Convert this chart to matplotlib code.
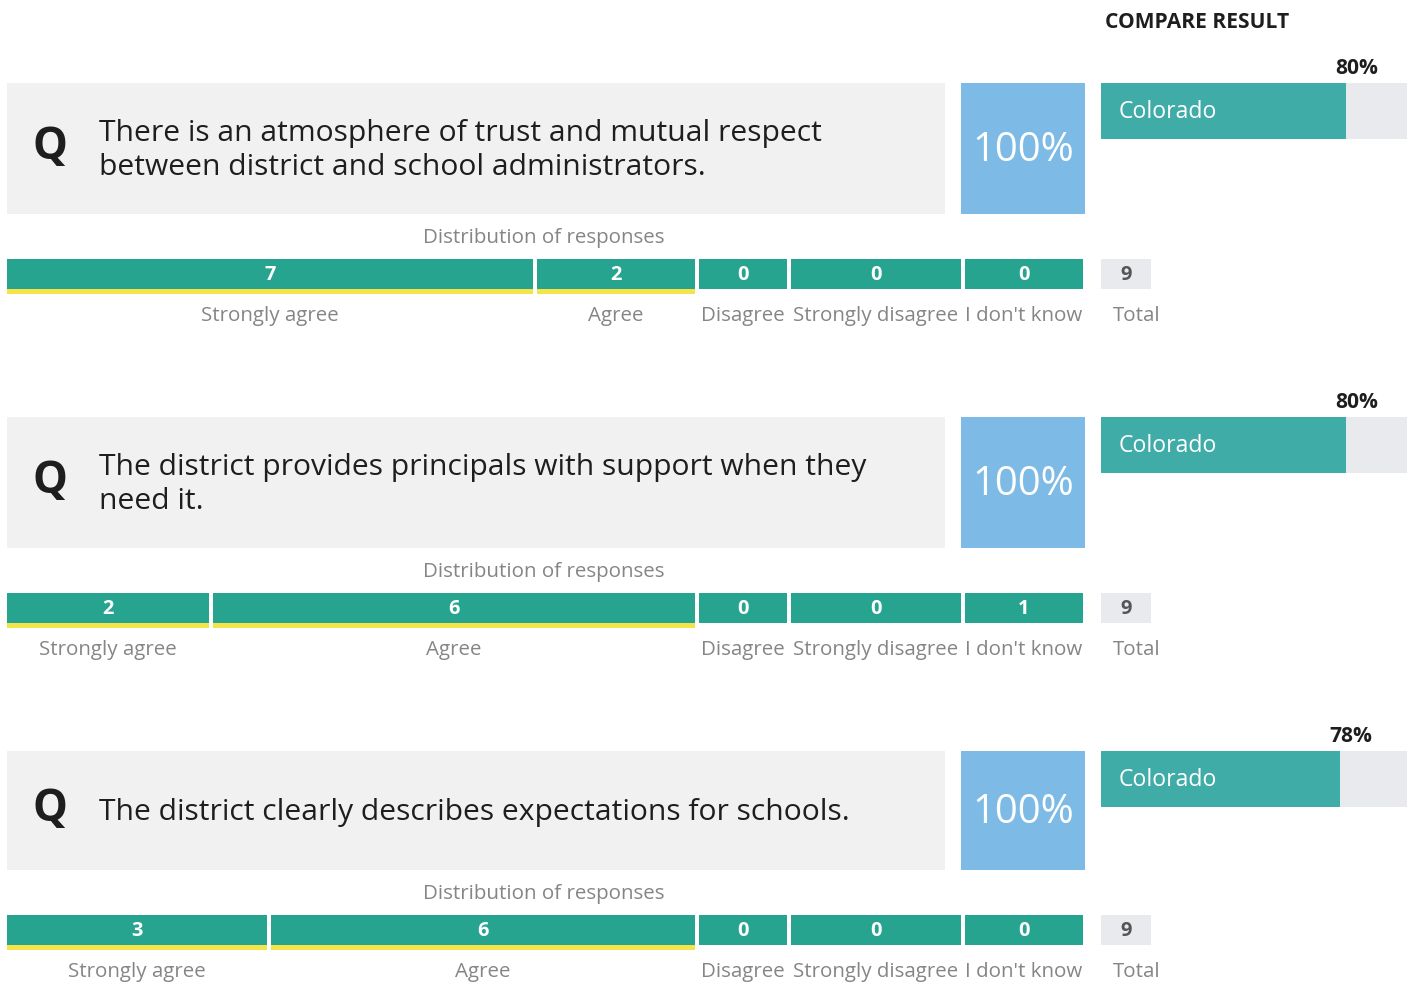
import matplotlib
matplotlib.use('Agg')
import matplotlib.pyplot as plt

plt.rcParams['font.family'] = ['Open Sans', 'DejaVu Sans']

QUESTIONS = [
    ['There is an atmosphere of trust and mutual respect',
     'between district and school administrators.'],
    ['The district provides principals with support when they',
     'need it.'],
    ['The district clearly describes expectations for schools.'],
]
CATEGORIES = ['Strongly agree', 'Agree', 'Disagree', 'Strongly disagree', "I don't know"]
COUNTS = [
    [7, 2, 0, 0, 0],
    [2, 6, 0, 0, 1],
    [3, 6, 0, 0, 0],
]
DISTRICT_SCORE = [100, 100, 100]
STATE_NAME = 'Colorado'
STATE_SCORE = [80, 80, 78]

# colours
TEAL = '#27a490'
YELLOW = '#f3e44a'
STATE_TEAL = '#40aca8'
LIGHT = '#e9eaed'
BOX_GREY = '#f1f1f1'
BLUE = '#7dbbe6'
DARK = '#1e1e1e'
MUTED = '#858585'

# layout in pixels (figure is 1416 x 984)
W, H = 1416, 984
BLOCK_TOP = [83, 417, 751]
BOX_H = [131, 131, 119]
SEG_EDGES = [  # left/right edges of each response segment
    [(7, 533), (537, 695), (699, 787), (791, 961), (965, 1083)],
    [(7, 209), (213, 695), (699, 787), (791, 961), (965, 1083)],
    [(7, 267), (271, 695), (699, 787), (791, 961), (965, 1083)],
]
STATE_X0, STATE_X1 = 1101, 1407
LINE_GAP = 34


def px(size):
    # pixel height to points at 100 dpi
    return size * 0.72


fig = plt.figure(figsize=(W / 100, H / 100), dpi=100)
ax = fig.add_axes([0, 0, 1, 1])
ax.set_xlim(0, W)
ax.set_ylim(H, 0)
ax.axis('off')

ax.text(1105, 22, 'COMPARE RESULT', fontsize=px(21), fontweight='bold',
        color=DARK, va='center', ha='left')

for i, lines in enumerate(QUESTIONS):
    top = BLOCK_TOP[i]
    bh = BOX_H[i]
    mid = top + bh / 2

    # question box
    ax.barh(mid, 938, left=7, height=bh, color=BOX_GREY, zorder=1)
    ax.text(50, mid - 1, 'Q', fontsize=px(44), fontweight='bold', color=DARK,
            ha='center', va='center', zorder=2)
    first = mid + 9.5 - LINE_GAP / 2 * (len(lines) - 1)
    for k, line in enumerate(lines):
        ax.text(99, first + k * LINE_GAP, line, fontsize=px(30), color=DARK,
                ha='left', va='baseline', zorder=2)

    # district score box
    ax.barh(mid, 124, left=961, height=bh, color=BLUE, zorder=1)
    ax.text(1023, mid + 2, f'{DISTRICT_SCORE[i]}%', fontsize=px(40),
            color='white', ha='center', va='center', zorder=2)

    # state comparison bar
    span = STATE_X1 - STATE_X0
    ax.barh(top + 28, span, left=STATE_X0, height=56, color=LIGHT, zorder=1)
    fill = span * STATE_SCORE[i] / 100
    ax.barh(top + 28, fill, left=STATE_X0, height=56, color=STATE_TEAL, zorder=2)
    ax.text(1119, top + 29, STATE_NAME, fontsize=px(23), color='white',
            ha='left', va='center', zorder=3)
    ax.text(STATE_X0 + fill + 11, top - 15, f'{STATE_SCORE[i]}%',
            fontsize=px(21), fontweight='bold', color=DARK, ha='center', va='center')

    # distribution of responses
    dist_y = top + bh + 24
    seg_top = top + bh + 45
    ax.text(544, dist_y, 'Distribution of responses', fontsize=px(20.5),
            color=MUTED, ha='center', va='center')
    for j, (x0, x1) in enumerate(SEG_EDGES[i]):
        cx = (x0 + x1) / 2
        ax.barh(seg_top + 15, x1 - x0, left=x0, height=30, color=TEAL, zorder=2)
        if j < 2:
            ax.barh(seg_top + 32.5, x1 - x0, left=x0, height=5, color=YELLOW, zorder=2)
        ax.text(cx, seg_top + 16, str(COUNTS[i][j]), fontsize=px(20),
                fontweight='bold', color='white', ha='center', va='center', zorder=3)
        ax.text(cx, seg_top + 57, CATEGORIES[j], fontsize=px(20.5), color=MUTED,
                ha='center', va='center')

    # total
    ax.barh(seg_top + 15, 50, left=1101, height=30, color=LIGHT, zorder=2)
    ax.text(1126, seg_top + 16, str(sum(COUNTS[i])), fontsize=px(20),
            fontweight='bold', color='#555555', ha='center', va='center', zorder=3)
    ax.text(1137, seg_top + 57, 'Total', fontsize=px(20.5), color=MUTED,
            ha='center', va='center')

fig.savefig('out.png', dpi=100, facecolor='white')
